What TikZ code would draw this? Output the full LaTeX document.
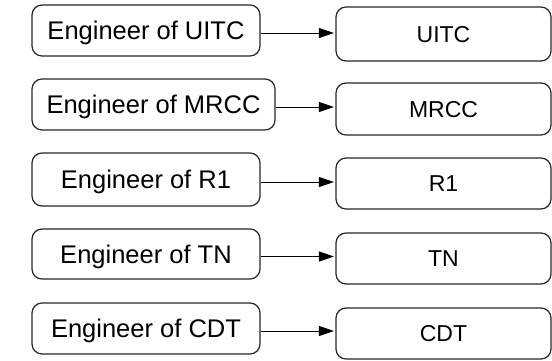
\documentclass[tikz,border=0pt]{standalone}
\usepackage{fontspec}
\setmainfont{Liberation Sans}
\usetikzlibrary{arrows.meta}
\begin{document}
\begin{tikzpicture}[x=1pt,y=-1pt,
  box/.style={draw=black!85, line width=1.2pt, rounded corners=10pt, inner sep=0pt,
    text depth=0pt, align=center},
  lbox/.style={box, font=\fontsize{25.5}{28}\selectfont, text height=18.3pt, minimum width=228pt},
  rbox/.style={box, font=\fontsize{23}{26}\selectfont, text height=16.5pt, minimum width=215pt},
  link/.style={line width=1pt, -{Triangle[length=15pt,width=10pt]}, shorten >=1.5pt}]
\useasboundingbox (0,0) rectangle (552,360);
\node[lbox, minimum height=51pt] (l1) at (146,30.5) {Engineer of UITC};
\node[lbox, minimum height=51pt, minimum width=243pt] (l2) at (153.5,104.5) {Engineer of MRCC};
\node[lbox, minimum height=53pt] (l3) at (146,179.5) {Engineer of R1};
\node[lbox, minimum height=50pt] (l4) at (146,254) {Engineer of TN};
\node[lbox, minimum height=51pt] (l5) at (146,328.5) {Engineer of CDT};
\node[rbox, minimum height=54pt] (r1) at (443.5,34) {UITC};
\node[rbox, minimum height=52pt] (r2) at (443.5,109) {MRCC};
\node[rbox, minimum height=51pt] (r3) at (443.5,183.5) {R1};
\node[rbox, minimum height=51pt] (r4) at (443.5,258.5) {TN};
\node[rbox, minimum height=51pt] (r5) at (443.5,333.5) {CDT};
\foreach \i in {1,...,5}{
  \coordinate (a\i) at ([yshift=-2.5pt]l\i.east);
  \draw[link] (a\i) -- (r\i.west |- a\i);
}
\end{tikzpicture}
\end{document}
